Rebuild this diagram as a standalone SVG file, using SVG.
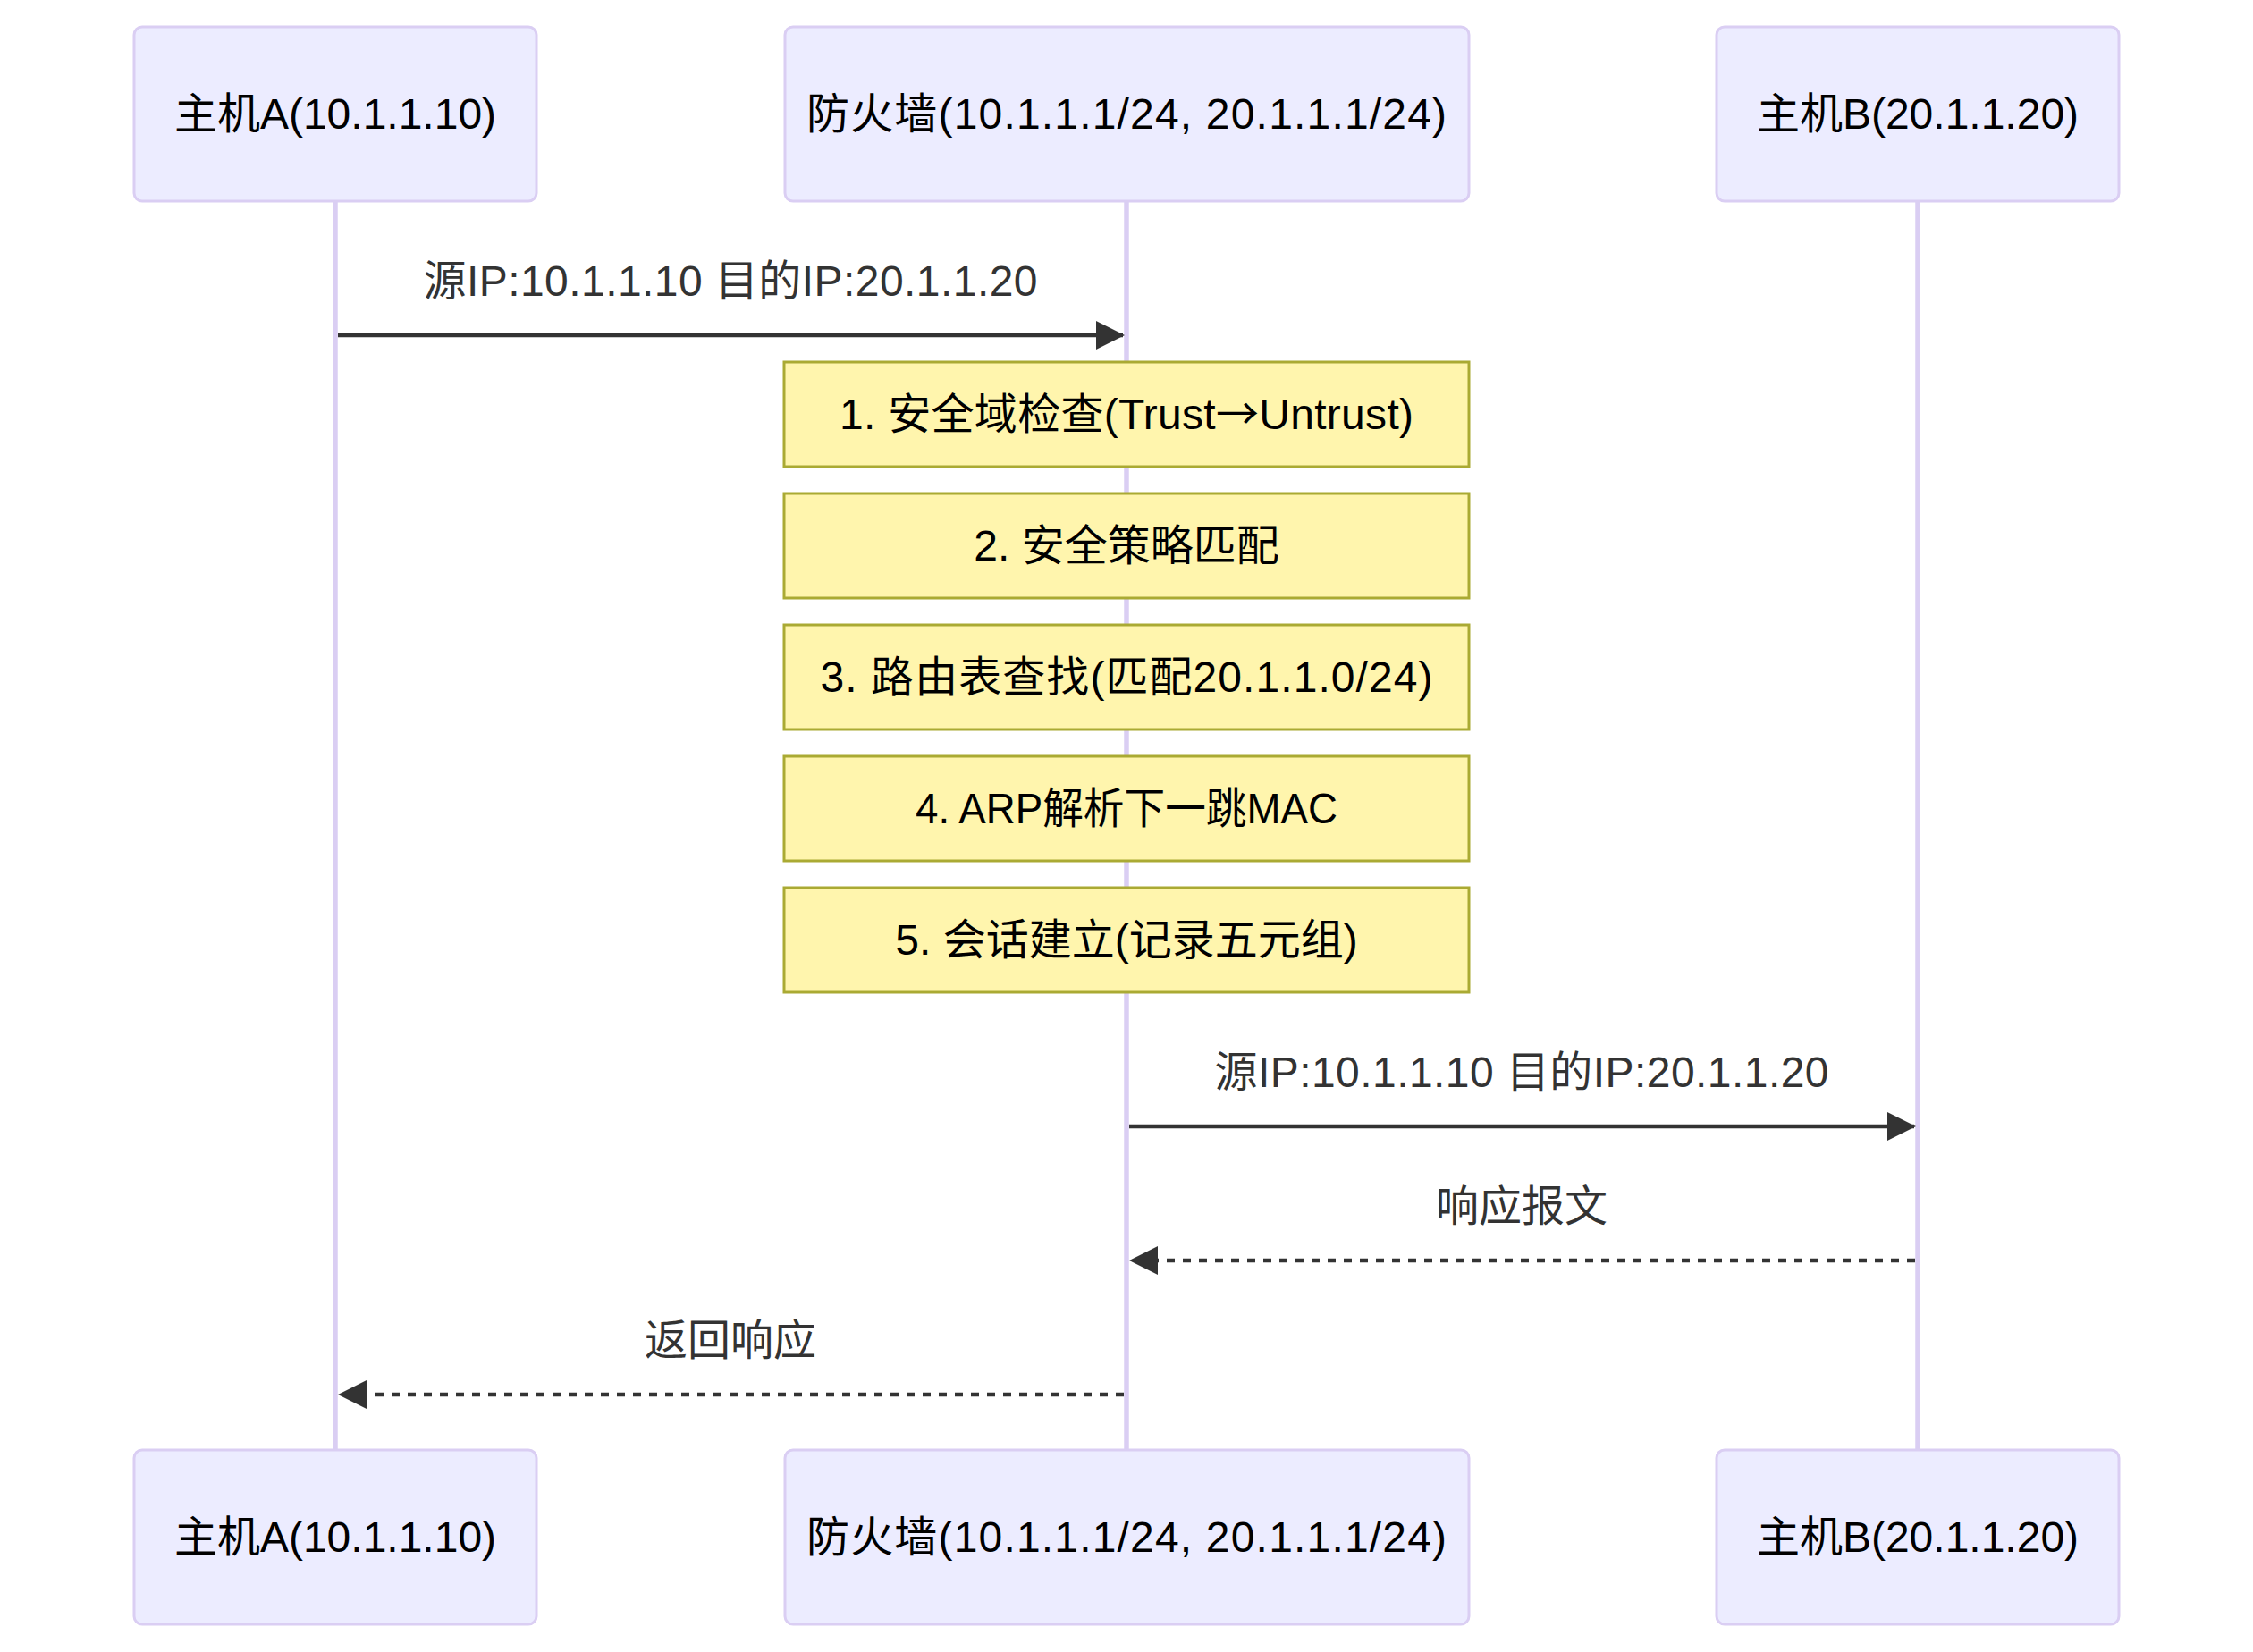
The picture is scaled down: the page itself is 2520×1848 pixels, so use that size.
<svg xmlns="http://www.w3.org/2000/svg" width="2520" height="1848" viewBox="0 0 2520 1848">
<style>
text{font-family:"Liberation Sans","Noto Sans CJK SC",sans-serif;font-size:48px;text-anchor:middle}
.actor{fill:#ECECFF;stroke:#DACEF3;stroke-width:3}
.atext{fill:#000}
.life{stroke:#DACEF3;stroke-width:5.5}
.note{fill:#FFF5AD;stroke:#AAAA33;stroke-width:3}
.ntext{fill:#000}
.msg{stroke:#333;stroke-width:4.5;fill:none}
.dash{stroke-dasharray:9 9}
.mtext{fill:#333}
.cjk{font-family:"Noto Sans CJK SC",sans-serif}
</style>
<defs>
<marker id="arr" markerUnits="userSpaceOnUse" markerWidth="34" markerHeight="34" refX="30" refY="16" orient="auto" viewBox="0 0 34 34">
<path d="M0,0 L32,16 L0,32 Z" fill="#333"/>
</marker>
</defs>
<rect width="2520" height="1848" fill="#fff"/>
<g id="lifelines">
<line class="life" x1="375" y1="225" x2="375" y2="1622"/>
<line class="life" x1="1260" y1="225" x2="1260" y2="1622"/>
<line class="life" x1="2145" y1="225" x2="2145" y2="1622"/>
</g>
<g id="hostA-top"><rect class="actor" x="150" y="30" width="450" height="195" rx="9"/><text class="atext" x="375" y="144">主机A(10.1.1.10)</text></g>
<g id="firewall-top"><rect class="actor" x="878" y="30" width="765" height="195" rx="9"/><text class="atext" x="1260" y="144" textLength="716" lengthAdjust="spacing">防火墙(10.1.1.1/24, 20.1.1.1/24)</text></g>
<g id="hostB-top"><rect class="actor" x="1920" y="30" width="450" height="195" rx="9"/><text class="atext" x="2145" y="144">主机B(20.1.1.20)</text></g>
<g id="note1"><rect class="note" x="877" y="405" width="766" height="117"/><text class="ntext" x="1260" y="480" textLength="642" lengthAdjust="spacing">1. 安全域检查(Trust<tspan class="cjk">→</tspan>Untrust)</text></g>
<g id="note2"><rect class="note" x="877" y="552" width="766" height="117"/><text class="ntext" x="1260" y="627">2. 安全策略匹配</text></g>
<g id="note3"><rect class="note" x="877" y="699" width="766" height="117"/><text class="ntext" x="1260" y="774" textLength="685" lengthAdjust="spacing">3. 路由表查找(匹配20.1.1.0/24)</text></g>
<g id="note4"><rect class="note" x="877" y="846" width="766" height="117"/><text class="ntext" x="1260" y="921" textLength="472" lengthAdjust="spacingAndGlyphs">4. ARP解析下一跳MAC</text></g>
<g id="note5"><rect class="note" x="877" y="993" width="766" height="117"/><text class="ntext" x="1260" y="1068">5. 会话建立(记录五元组)</text></g>
<g id="connectors">
<line class="msg" x1="378" y1="375" x2="1256" y2="375" marker-end="url(#arr)"/>
<text class="mtext" x="817" y="331" textLength="687" lengthAdjust="spacing">源IP:10.1.1.10 目的IP:20.1.1.20</text>
<line class="msg" x1="1263" y1="1260" x2="2141" y2="1260" marker-end="url(#arr)"/>
<text class="mtext" x="1702" y="1216" textLength="687" lengthAdjust="spacing">源IP:10.1.1.10 目的IP:20.1.1.20</text>
<line class="msg dash" x1="2142" y1="1410" x2="1265" y2="1410" marker-end="url(#arr)"/>
<text class="mtext" x="1702" y="1366">响应报文</text>
<line class="msg dash" x1="1257" y1="1560" x2="380" y2="1560" marker-end="url(#arr)"/>
<text class="mtext" x="817" y="1516">返回响应</text>
</g>
<g id="hostA-bottom"><rect class="actor" x="150" y="1622" width="450" height="195" rx="9"/><text class="atext" x="375" y="1736">主机A(10.1.1.10)</text></g>
<g id="firewall-bottom"><rect class="actor" x="878" y="1622" width="765" height="195" rx="9"/><text class="atext" x="1260" y="1736" textLength="716" lengthAdjust="spacing">防火墙(10.1.1.1/24, 20.1.1.1/24)</text></g>
<g id="hostB-bottom"><rect class="actor" x="1920" y="1622" width="450" height="195" rx="9"/><text class="atext" x="2145" y="1736">主机B(20.1.1.20)</text></g>
</svg>
